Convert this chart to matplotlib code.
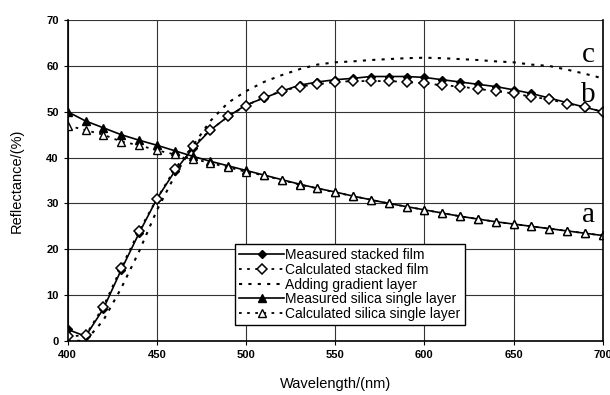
import matplotlib.pyplot as plt
import numpy as np

plt.rcParams['font.family'] = ['Liberation Sans', 'DejaVu Sans']

# Read-off data (10 nm steps, 400-700 nm)
wavelength = np.arange(400, 701, 10)

meas_stack = [2.5, 1.0, 7.0, 15.5, 23.5, 31.0, 37.0, 42.0, 46.0, 49.0, 51.5,
              53.0, 54.5, 55.8, 56.5, 57.0, 57.3, 57.7, 57.7, 57.7, 57.5,
              57.0, 56.5, 56.0, 55.5, 54.8, 54.0, 53.0, 52.0, 51.0, 50.0]
calc_stack = [1.0, 1.2, 7.5, 16.0, 24.0, 31.0, 37.5, 42.5, 46.0, 49.0, 51.3,
              53.2, 54.5, 55.5, 56.0, 56.5, 56.7, 56.7, 56.7, 56.5, 56.2,
              55.8, 55.5, 55.0, 54.5, 54.0, 53.3, 52.7, 51.8, 51.0, 50.0]
gradient = [0.0, 0.0, 4.5, 11.5, 19.5, 28.5, 36.0, 42.5, 48.0, 52.0, 54.5,
            56.5, 58.0, 59.3, 60.3, 60.8, 61.0, 61.3, 61.5, 61.7, 61.8,
            61.7, 61.5, 61.3, 61.0, 60.8, 60.3, 60.0, 59.2, 58.3, 57.3]
meas_silica = [50.0, 48.0, 46.5, 45.0, 43.8, 42.7, 41.5, 40.3, 39.2, 38.2, 37.2,
               36.2, 35.2, 34.2, 33.3, 32.5, 31.6, 30.8, 30.0, 29.3, 28.6,
               27.9, 27.2, 26.6, 26.0, 25.5, 25.0, 24.5, 24.0, 23.5, 23.0]
calc_silica = [47.0, 46.0, 45.0, 43.5, 42.7, 41.6, 40.7, 39.8, 38.8, 37.9, 36.9,
               36.1, 35.1, 34.1, 33.3, 32.4, 31.6, 30.8, 30.0, 29.3, 28.6,
               27.9, 27.2, 26.6, 26.0, 25.5, 25.0, 24.5, 24.0, 23.5, 23.0]

fig = plt.figure(figsize=(6.1, 3.95), dpi=100)
ax = fig.add_axes([0.111, 0.137, 0.877, 0.812])

ax.plot(wavelength, meas_stack, '-', color='black', lw=1.2, marker='D', ms=4.5,
        mfc='black', mec='black', label='Measured stacked film')
ax.plot(wavelength, calc_stack, color='black', lw=1.3, ls=(0, (1.5, 3)), marker='D', ms=5,
        mfc='white', mec='black', mew=1.1, label='Calculated stacked film')
ax.plot(wavelength, gradient, color='black', lw=1.5, ls=(0, (1.5, 3)),
        label='Adding gradient layer')
ax.plot(wavelength, meas_silica, '-', color='black', lw=1.2, marker='^', ms=5.5,
        mfc='black', mec='black', label='Measured silica single layer')
ax.plot(wavelength, calc_silica, color='black', lw=1.3, ls=(0, (1.5, 3)), marker='^', ms=6,
        mfc='white', mec='black', mew=1.0, label='Calculated silica single layer')

ax.text(692, 62.5, 'c', family='Liberation Serif', fontsize=21, ha='center', va='center')
ax.text(692, 53.6, 'b', family='Liberation Serif', fontsize=21, ha='center', va='center')
ax.text(692, 27.5, 'a', family='Liberation Serif', fontsize=21, ha='center', va='center')

ax.set_xlim(400, 700)
ax.set_ylim(0, 70)
ax.set_xticks(np.arange(400, 701, 50))
ax.set_yticks(np.arange(0, 71, 10))
ax.tick_params(labelsize=8, length=3, width=0.8)
for lbl in ax.get_xticklabels() + ax.get_yticklabels():
    lbl.set_fontweight('bold')
ax.grid(True, color='#333333', lw=0.8)
ax.spines['top'].set_visible(False)
for s in ['left', 'bottom', 'right']:
    ax.spines[s].set_linewidth(1.2)

ax.set_xlabel('Wavelength/(nm)', fontsize=10.5, labelpad=12)
ax.set_ylabel('Reflectance/(%)', fontsize=10.5, labelpad=16)

leg = ax.legend(loc='lower left', bbox_to_anchor=(0.313, 0.049), fontsize=10,
                frameon=True, fancybox=False, edgecolor='black', framealpha=1,
                handlelength=3.2, handletextpad=0.1, labelspacing=0.05,
                borderpad=0.3, borderaxespad=0)
leg.get_frame().set_linewidth(1.0)

plt.savefig('out.png', dpi=100)
